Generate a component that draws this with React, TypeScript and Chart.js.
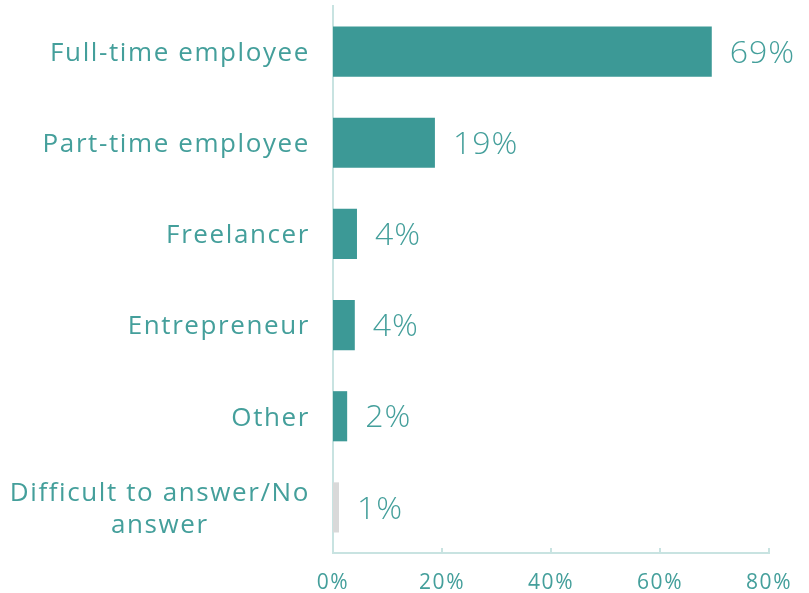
import React, { useEffect, useRef } from "react";
import { Chart, registerables } from "chart.js";

Chart.register(...registerables);

const categories: (string | string[])[] = [
  "Full-time employee",
  "Part-time employee",
  "Freelancer",
  "Entrepreneur",
  "Other",
  ["Difficult to answer/No", "answer"],
];
const values = [69.5, 18.7, 4.4, 4.0, 2.6, 1.1];
const valueLabels = ["69%", "19%", "4%", "4%", "2%", "1%"];
const barColors = ["#3c9996", "#3c9996", "#3c9996", "#3c9996", "#3c9996", "#d9d9d9"];
const xTickMax = 80;
const xTickStep = 20;

const TEXT = "#449f9b";
const AXIS = "#c8e3e1";
const FONT = "'Open Sans', sans-serif";
const SPACING = "1.6px";

const spacingPlugin = {
  id: "spacing",
  beforeUpdate(chart: any) {
    chart.ctx.letterSpacing = SPACING;
  },
  beforeLayout(chart: any) {
    chart.ctx.letterSpacing = SPACING;
  },
  beforeDraw(chart: any) {
    chart.ctx.letterSpacing = SPACING;
  },
};

// Category labels: block right-aligned to the axis, multi-line text centred within its block
const categoryLabelPlugin = {
  id: "categoryLabels",
  afterDraw(chart: any) {
    const ctx = chart.ctx;
    const y = chart.scales.y;
    const right = chart.chartArea.left - 23;
    const lineH = 32;
    ctx.save();
    ctx.letterSpacing = SPACING;
    ctx.font = `400 26px ${FONT}`;
    ctx.fillStyle = TEXT;
    ctx.textBaseline = "middle";
    categories.forEach((label, i) => {
      const lines = Array.isArray(label) ? label : [label];
      const cy = y.getPixelForTick(i) + 2;
      const widths = lines.map((l) => ctx.measureText(l).width);
      const maxW = Math.max(...widths);
      const centre = right - maxW / 2;
      lines.forEach((l, j) => {
        const ly = cy + (j - (lines.length - 1) / 2) * lineH;
        if (lines.length === 1) {
          ctx.textAlign = "right";
          ctx.fillText(l, right, ly);
        } else {
          ctx.textAlign = "center";
          ctx.fillText(l, centre, ly);
        }
      });
    });
    ctx.restore();
  },
};

const valueLabelPlugin = {
  id: "valueLabels",
  afterDatasetsDraw(chart: any) {
    const ctx = chart.ctx;
    const meta = chart.getDatasetMeta(0);
    ctx.save();
    ctx.letterSpacing = "1px";
    ctx.font = `300 32px ${FONT}`;
    ctx.fillStyle = TEXT;
    ctx.textAlign = "left";
    ctx.textBaseline = "middle";
    meta.data.forEach((bar: any, i: number) => {
      ctx.fillText(valueLabels[i], bar.x + 18, bar.y + 2);
    });
    ctx.restore();
  },
};

const innerTickPlugin = {
  id: "innerTicks",
  afterDraw(chart: any) {
    const ctx = chart.ctx;
    const x = chart.scales.x;
    const bottom = chart.chartArea.bottom;
    ctx.save();
    ctx.strokeStyle = AXIS;
    ctx.lineWidth = 2;
    x.ticks.forEach((t: any) => {
      if (t.value === 0) return;
      const px = Math.round(x.getPixelForValue(t.value));
      ctx.beginPath();
      ctx.moveTo(px, bottom);
      ctx.lineTo(px, bottom - 5);
      ctx.stroke();
    });
    ctx.restore();
  },
};

export default function App() {
  const ref = useRef<HTMLCanvasElement>(null);
  useEffect(() => {
    if (!ref.current) return;
    const chart = new Chart(ref.current, {
      type: "bar",
      data: {
        labels: categories,
        datasets: [
          {
            data: values,
            backgroundColor: barColors,
            barPercentage: 0.55,
            categoryPercentage: 1,
          },
        ],
      },
      options: {
        indexAxis: "y",
        animation: false,
        responsive: true,
        maintainAspectRatio: false,
        layout: { padding: { top: 6, right: 40, bottom: 0, left: 0 } },
        plugins: {
          legend: { display: false },
          tooltip: { enabled: false },
        },
        scales: {
          x: {
            min: 0,
            max: xTickMax,
            grid: { display: false, drawTicks: false },
            border: { display: true, color: AXIS, width: 2 },
            ticks: {
              stepSize: xTickStep,
              padding: 17,
              color: TEXT,
              font: { family: FONT, size: 21 },
              callback: (v: any) => v + "%",
            },
            afterFit: (s: any) => {
              s.height = 40;
              s.paddingLeft = 0;
              s.paddingRight = 0;
            },
          },
          y: {
            grid: { display: false, drawTicks: false },
            border: { display: true, color: AXIS, width: 2 },
            ticks: { display: false },
            afterFit: (s: any) => {
              s.width = 333;
              s.paddingTop = 0;
              s.paddingBottom = 0;
            },
          },
        },
      },
      plugins: [spacingPlugin, categoryLabelPlugin, valueLabelPlugin, innerTickPlugin],
    });
    return () => chart.destroy();
  }, []);
  return (
    <div style={{ position: "fixed", left: 0, top: 0, width: 809, height: 593 }}>
      <canvas ref={ref} />
    </div>
  );
}
